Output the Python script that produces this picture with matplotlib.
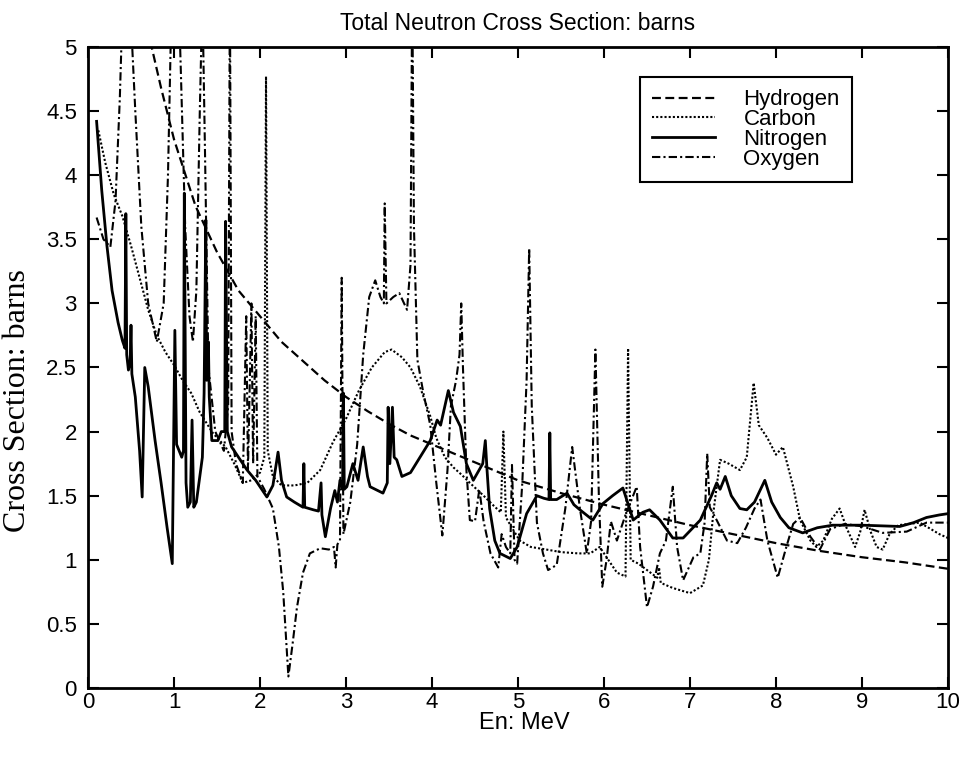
import matplotlib
matplotlib.use("Agg")
import matplotlib.pyplot as plt

# ---------------- data ----------------
h_E = [0.70, 0.74, 0.85, 1.0, 1.25, 1.5, 1.75, 2.0, 2.25, 2.5, 2.75, 3.0, 3.25, 3.5,
       3.75, 4.0, 4.5, 5.0, 5.5, 6.0, 6.5, 7.0, 7.5, 8.0, 8.5, 9.0, 9.5, 10.0]
h_sig = [5.15, 5.0, 4.68, 4.28, 3.76, 3.40, 3.10, 2.90, 2.70, 2.55, 2.40, 2.27, 2.16, 2.06,
         1.97, 1.90, 1.76, 1.62, 1.52, 1.43, 1.35, 1.27, 1.20, 1.13, 1.07, 1.02, 0.98, 0.93]

c_E = [0.12, 0.2, 0.3, 0.4, 0.5, 0.6, 0.7, 0.8, 0.9, 1.0, 1.1, 1.2, 1.3, 1.45, 1.6, 1.7,
       1.8, 1.9, 2.0, 2.05, 2.07, 2.09, 2.15, 2.25, 2.4, 2.55, 2.7, 2.85, 3.0, 3.15, 3.3,
       3.45, 3.53, 3.65, 3.75, 3.86, 3.98, 4.05, 4.15, 4.25, 4.35, 4.44, 4.6, 4.72, 4.80,
       4.83, 4.86, 4.93, 5.02, 5.15, 5.33, 5.5, 5.7, 5.84, 5.95, 6.05, 6.15, 6.25, 6.28,
       6.31, 6.4, 6.5, 6.62, 6.64, 6.66, 6.8, 7.0, 7.15, 7.22, 7.27, 7.35, 7.45, 7.58,
       7.66, 7.74, 7.80, 7.90, 8.0, 8.08, 8.2, 8.28, 8.40, 8.47, 8.55, 8.65, 8.74, 8.82,
       8.92, 8.98, 9.03, 9.10, 9.17, 9.24, 9.32, 9.42, 9.55, 9.67, 9.8, 9.9, 10.0]
c_sig = [4.35, 4.10, 3.85, 3.68, 3.45, 3.20, 2.95, 2.75, 2.62, 2.52, 2.40, 2.30, 2.15, 1.99,
         1.88, 1.75, 1.60, 1.62, 1.68, 1.80, 4.77, 1.85, 1.65, 1.58, 1.58, 1.60, 1.70, 1.92,
         2.10, 2.32, 2.50, 2.62, 2.64, 2.58, 2.50, 2.35, 2.12, 1.95, 1.80, 1.72, 1.66, 1.60,
         1.50, 1.42, 1.37, 2.00, 1.33, 1.25, 1.15, 1.10, 1.08, 1.06, 1.05, 1.05, 1.10, 1.00,
         0.90, 0.87, 2.65, 1.00, 0.97, 0.92, 0.86, 0.94, 0.82, 0.78, 0.74, 0.80, 1.00, 1.36,
         1.78, 1.75, 1.70, 1.80, 2.38, 2.05, 1.95, 1.82, 1.88, 1.57, 1.31, 1.15, 1.10, 1.15,
         1.32, 1.40, 1.25, 1.10, 1.22, 1.39, 1.22, 1.10, 1.08, 1.20, 1.27, 1.28, 1.29, 1.24,
         1.20, 1.17]

n_E = [0.10, 0.16, 0.22, 0.28, 0.35, 0.40, 0.43, 0.44, 0.45, 0.47, 0.49, 0.50, 0.51, 0.55,
       0.60, 0.63, 0.66, 0.70, 0.78, 0.85, 0.92, 0.98, 1.01, 1.03, 1.09, 1.11, 1.12, 1.14,
       1.16, 1.19, 1.21, 1.23, 1.26, 1.33, 1.35, 1.37, 1.38, 1.40, 1.41, 1.44, 1.51, 1.55,
       1.59, 1.60, 1.62, 1.67, 1.75, 1.85, 1.95, 2.08, 2.15, 2.21, 2.25, 2.31, 2.40, 2.50,
       2.51, 2.52, 2.62, 2.68, 2.71, 2.72, 2.76, 2.82, 2.87, 2.90, 2.93, 2.96, 2.97, 2.98,
       3.01, 3.08, 3.14, 3.20, 3.25, 3.28, 3.43, 3.48, 3.49, 3.51, 3.54, 3.56, 3.59, 3.65,
       3.75, 3.86, 3.98, 4.06, 4.10, 4.19, 4.25, 4.33, 4.40, 4.48, 4.59, 4.62, 4.64, 4.67,
       4.73, 4.79, 4.91, 4.99, 5.10, 5.22, 5.30, 5.36, 5.37, 5.38, 5.45, 5.57, 5.65, 5.72,
       5.87, 5.99, 6.10, 6.22, 6.34, 6.45, 6.53, 6.65, 6.80, 6.92, 7.12, 7.25, 7.31, 7.35,
       7.41, 7.48, 7.58, 7.66, 7.75, 7.87, 7.95, 8.05, 8.15, 8.31, 8.48, 8.66, 9.0, 9.44,
       9.6, 9.75, 9.9, 10.0]
n_sig = [4.42, 3.88, 3.45, 3.10, 2.85, 2.71, 2.65, 3.70, 2.60, 2.48, 2.55, 2.83, 2.45, 2.27,
         1.85, 1.49, 2.50, 2.35, 1.93, 1.60, 1.25, 0.97, 2.79, 1.90, 1.80, 1.85, 3.86, 1.60,
         1.41, 1.45, 2.09, 1.41, 1.45, 1.80, 2.30, 3.65, 2.40, 2.70, 2.27, 1.93, 1.93, 2.00,
         2.00, 3.64, 2.00, 1.88, 1.80, 1.70, 1.62, 1.49, 1.58, 1.84, 1.62, 1.49, 1.45, 1.41,
         1.75, 1.41, 1.39, 1.38, 1.60, 1.35, 1.18, 1.40, 1.54, 1.45, 1.62, 1.55, 2.30, 1.55,
         1.57, 1.75, 1.62, 1.88, 1.65, 1.57, 1.52, 1.60, 2.19, 1.75, 2.19, 1.80, 1.78, 1.65,
         1.68, 1.80, 1.93, 2.09, 2.05, 2.32, 2.15, 2.04, 1.75, 1.62, 1.75, 1.93, 1.70, 1.40,
         1.15, 1.05, 1.01, 1.10, 1.36, 1.50, 1.48, 1.47, 1.99, 1.47, 1.47, 1.52, 1.43, 1.39,
         1.31, 1.44, 1.50, 1.56, 1.31, 1.37, 1.39, 1.31, 1.17, 1.17, 1.31, 1.50, 1.60, 1.55,
         1.65, 1.50, 1.40, 1.39, 1.45, 1.62, 1.45, 1.33, 1.25, 1.21, 1.25, 1.27, 1.27, 1.26,
         1.29, 1.33, 1.35, 1.36]

o_E = [0.10, 0.18, 0.26, 0.32, 0.37, 0.41, 0.45, 0.50, 0.55, 0.62, 0.70, 0.80, 0.88, 0.93,
       0.97, 1.05, 1.08, 1.13, 1.18, 1.22, 1.26, 1.30, 1.33, 1.36, 1.40, 1.48, 1.58, 1.63,
       1.65, 1.67, 1.72, 1.80, 1.84, 1.86, 1.90, 1.92, 1.95, 1.97, 2.05, 2.15, 2.22, 2.27,
       2.33, 2.38, 2.43, 2.50, 2.58, 2.70, 2.80, 2.86, 2.88, 2.90, 2.93, 2.95, 2.97, 3.05,
       3.13, 3.20, 3.27, 3.34, 3.40, 3.44, 3.45, 3.47, 3.55, 3.62, 3.71, 3.75, 3.77, 3.79,
       3.83, 3.90, 3.98, 4.05, 4.12, 4.18, 4.22, 4.28, 4.32, 4.34, 4.36, 4.40, 4.44, 4.50,
       4.55, 4.60, 4.68, 4.77, 4.81, 4.86, 4.91, 4.93, 4.96, 4.99, 5.05, 5.10, 5.13, 5.16,
       5.22, 5.29, 5.35, 5.45, 5.55, 5.63, 5.72, 5.80, 5.85, 5.90, 5.94, 5.98, 6.03, 6.08,
       6.15, 6.25, 6.38, 6.42, 6.50, 6.57, 6.65, 6.72, 6.80, 6.85, 6.92, 7.04, 7.12, 7.17,
       7.20, 7.23, 7.31, 7.43, 7.55, 7.65, 7.75, 7.82, 7.90, 8.02, 8.12, 8.20, 8.28, 8.40,
       8.51, 8.63, 8.80, 9.01, 9.24, 9.52, 9.75, 10.0]
o_sig = [3.67, 3.50, 3.44, 3.80, 4.60, 5.50, 5.50, 5.20, 4.50, 3.60, 3.00, 2.70, 3.00, 4.00,
         5.30, 5.50, 4.80, 3.60, 2.90, 2.70, 3.10, 4.50, 5.40, 4.20, 2.50, 2.00, 1.85, 2.20,
         5.50, 2.00, 1.75, 1.60, 2.90, 1.70, 3.00, 1.75, 2.90, 1.65, 1.55, 1.40, 1.10, 0.75,
         0.09, 0.35, 0.63, 0.90, 1.05, 1.09, 1.08, 1.10, 0.94, 1.12, 1.15, 3.20, 1.20, 1.45,
         1.90, 2.60, 3.05, 3.18, 3.05, 3.00, 3.78, 3.00, 3.05, 3.08, 2.95, 3.30, 5.50, 3.60,
         2.56, 2.30, 2.05, 1.60, 1.19, 1.70, 2.20, 2.40, 2.60, 3.00, 2.50, 1.70, 1.31, 1.30,
         1.55, 1.30, 1.05, 0.94, 1.20, 1.10, 1.05, 1.74, 1.00, 0.97, 1.60, 2.40, 3.43, 2.20,
         1.29, 1.05, 0.92, 0.96, 1.40, 1.88, 1.40, 1.05, 1.30, 2.64, 1.50, 0.79, 1.00, 1.30,
         1.15, 1.35, 1.57, 1.10, 0.63, 0.79, 1.05, 1.15, 1.57, 1.10, 0.84, 1.02, 1.05, 1.29,
         1.83, 1.41, 1.31, 1.15, 1.13, 1.25, 1.40, 1.47, 1.15, 0.86, 1.10, 1.28, 1.33, 1.18,
         1.08, 1.24, 1.28, 1.26, 1.21, 1.22, 1.29, 1.29]

labels = ["Hydrogen", "Carbon", "Nitrogen", "Oxygen"]
x_ticks = list(range(0, 11))
y_ticks = [0, 0.5, 1, 1.5, 2, 2.5, 3, 3.5, 4, 4.5, 5]
y_tick_labels = ["0", "0.5", "1", "1.5", "2", "2.5", "3", "3.5", "4", "4.5", "5"]

# ---------------- figure ----------------
plt.rcParams["font.family"] = ["Liberation Sans", "DejaVu Sans"]
fig = plt.figure(figsize=(9.66, 7.57), dpi=100)
ax = fig.add_axes([88 / 966, 69 / 757, 860 / 966, 641 / 757])

ax.plot(h_E, h_sig, color="black", lw=1.6, linestyle=(0, (4, 2)), label=labels[0])
ax.plot(c_E, c_sig, color="black", lw=1.5, linestyle=(0, (1, 1)), label=labels[1])
ax.plot(n_E, n_sig, color="black", lw=2.0, linestyle="-", label=labels[2])
ax.plot(o_E, o_sig, color="black", lw=1.5, linestyle=(0, (4, 1.5, 1, 1.5)), label=labels[3])

ax.set_xlim(0, 10)
ax.set_ylim(0, 5)
ax.set_xticks(x_ticks)
ax.set_yticks(y_ticks)
ax.set_yticklabels(y_tick_labels)
ax.tick_params(direction="in", length=8, width=1.5, top=True, right=True,
               labelsize=16, pad=8)
ax.tick_params(axis="x", pad=3)
for s in ax.spines.values():
    s.set_linewidth(2)

ax.set_title("Total Neutron Cross Section: barns", fontsize=16.5, pad=12)
ax.set_xlabel("En: MeV", fontsize=17)
ax.xaxis.set_label_coords(0.507, -0.037)
ax.set_ylabel("Cross Section: barns", fontsize=23, family=["Liberation Serif", "DejaVu Serif"])
ax.yaxis.set_label_coords(-0.065, 0.448)

leg = ax.legend(loc="upper left", bbox_to_anchor=(0.642, 0.953), fontsize=16,
                frameon=True, fancybox=False, edgecolor="black", framealpha=1,
                handlelength=2.8, handletextpad=1.3, borderpad=0.55, labelspacing=-0.05,
                borderaxespad=0)
leg.get_frame().set_linewidth(1.5)

fig.savefig("out.png", dpi=100)
